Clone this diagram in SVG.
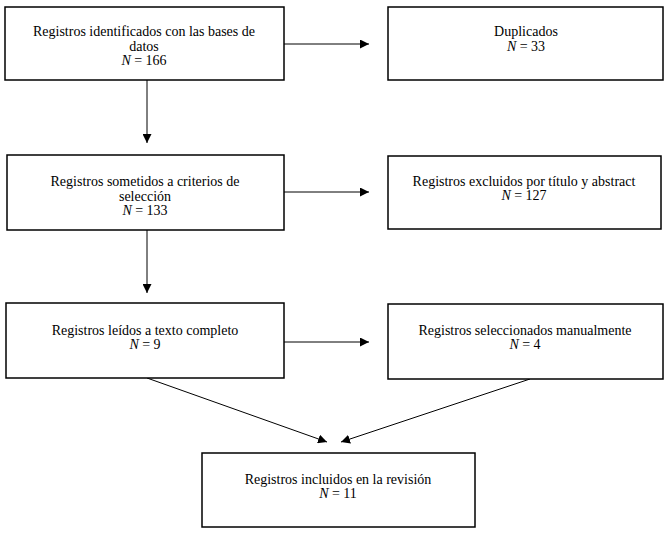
<svg xmlns="http://www.w3.org/2000/svg" width="664" height="534" viewBox="0 0 664 534">
<defs>
<style>
.box{fill:#fff;stroke:#000;stroke-width:1.5}
.t{font-family:"Liberation Serif","Times New Roman",serif;font-size:14px;fill:#000;text-anchor:middle}
.c{stroke:#000;stroke-width:1;fill:none;marker-end:url(#ah)}
</style>
<marker id="ah" viewBox="0 0 10 10" refX="10" refY="5" markerWidth="9" markerHeight="9" markerUnits="userSpaceOnUse" orient="auto">
<path d="M0,0 L10,5 L0,10 z" fill="#000"/>
</marker>
</defs>
<rect width="664" height="534" fill="#fff"/>
<g id="connectors">
<line class="c" x1="284" y1="44" x2="369" y2="44"/>
<line class="c" x1="147" y1="80" x2="147" y2="143"/>
<line class="c" x1="284" y1="192" x2="369" y2="192"/>
<line class="c" x1="147" y1="230" x2="147" y2="293"/>
<line class="c" x1="284" y1="342" x2="369" y2="342"/>
<line class="c" x1="147" y1="378" x2="327" y2="442"/>
<line class="c" x1="530" y1="379" x2="341" y2="442"/>
</g>
<g id="n1">
<rect class="box" x="5" y="7" width="279" height="73"/>
<text class="t" x="144" y="36">Registros identificados con las bases de</text>
<text class="t" x="144" y="51">datos</text>
<text class="t" x="144" y="65"><tspan font-style="italic">N</tspan> = 166</text>
</g>
<g id="n2">
<rect class="box" x="388" y="7" width="275" height="73"/>
<text class="t" x="526" y="36">Duplicados</text>
<text class="t" x="526" y="51"><tspan font-style="italic">N</tspan> = 33</text>
</g>
<g id="n3">
<rect class="box" x="7" y="155" width="277" height="75"/>
<text class="t" x="145" y="186">Registros sometidos a criterios de</text>
<text class="t" x="145" y="201">selección</text>
<text class="t" x="145" y="215"><tspan font-style="italic">N</tspan> = 133</text>
</g>
<g id="n4">
<rect class="box" x="388" y="156" width="273" height="73"/>
<text class="t" x="524" y="186">Registros excluidos por título y abstract</text>
<text class="t" x="524" y="200"><tspan font-style="italic">N</tspan> = 127</text>
</g>
<g id="n5">
<rect class="box" x="6" y="303" width="278" height="75"/>
<text class="t" x="145" y="335">Registros leídos a texto completo</text>
<text class="t" x="145" y="349"><tspan font-style="italic">N</tspan> = 9</text>
</g>
<g id="n6">
<rect class="box" x="388" y="304" width="275" height="75"/>
<text class="t" x="525" y="335">Registros seleccionados manualmente</text>
<text class="t" x="525" y="349"><tspan font-style="italic">N</tspan> = 4</text>
</g>
<g id="n7">
<rect class="box" x="202" y="453" width="273" height="74"/>
<text class="t" x="338" y="484">Registros incluidos en la revisión</text>
<text class="t" x="338" y="498"><tspan font-style="italic">N</tspan> = 11</text>
</g>
</svg>
